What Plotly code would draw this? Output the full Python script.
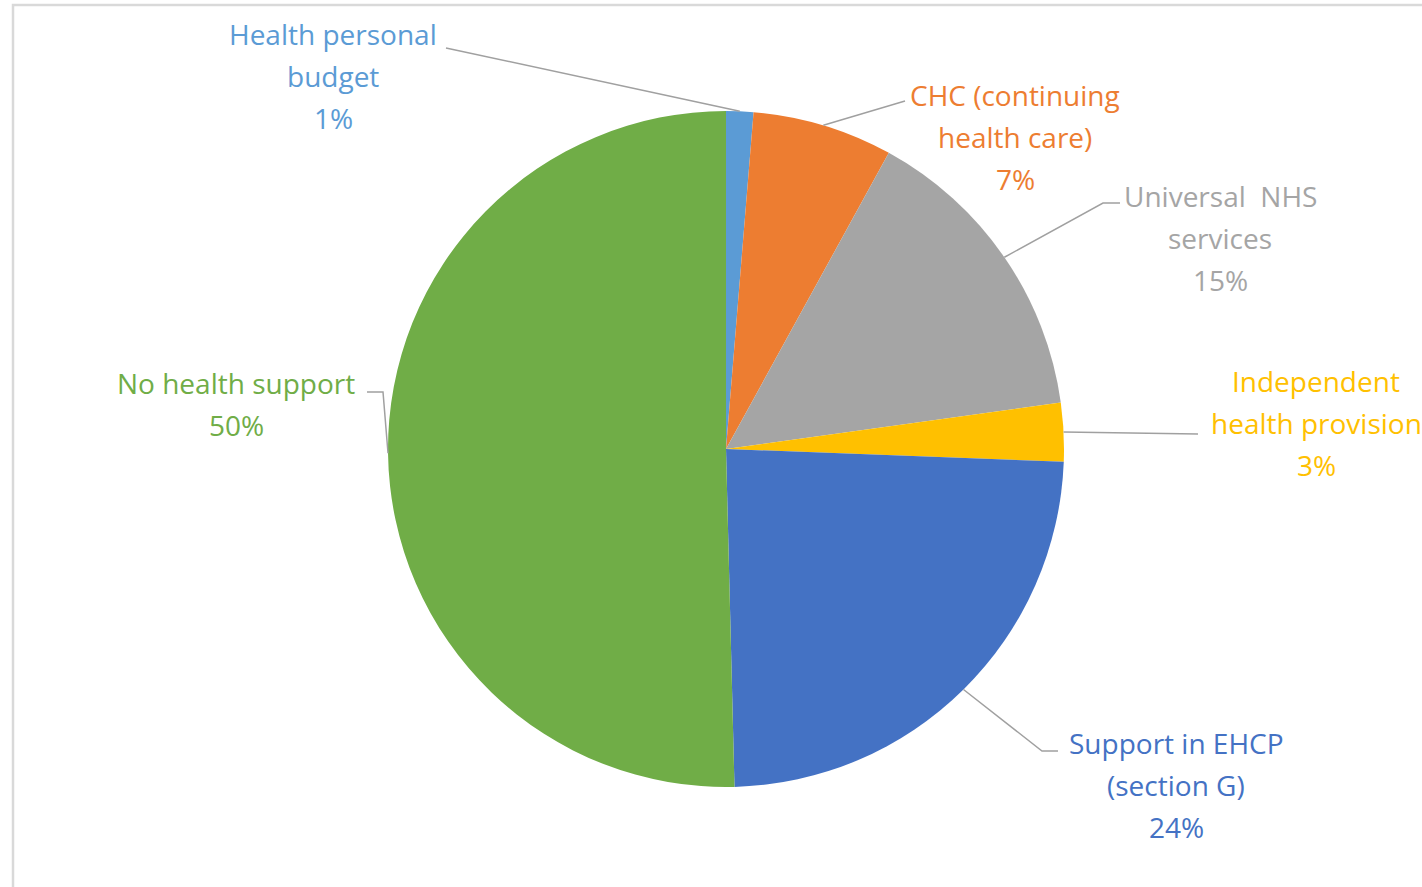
import math
import plotly.graph_objects as go

# ---- data ----
categories = ["Health personal budget", "CHC (continuing health care)", "Universal NHS services",
              "Independent health provision", "Support in EHCP (section G)", "No health support"]
values = [1.3, 6.7, 14.8, 2.8, 24.0, 50.4]
label_lines = [["Health personal", "budget"],
               ["CHC (continuing", "health care)"],
               ["Universal  NHS", "services"],
               ["Independent", "health provision"],
               ["Support in EHCP", "(section G)"],
               ["No health support"]]
colors = ["#5B9BD5", "#ED7D31", "#A5A5A5", "#FFC000", "#4472C4", "#70AD47"]

# ---- layout constants (pixels) ----
W, H = 1422, 887
CX, CY, R = 726, 449, 338
# label block: centre x, first line centre y
label_pos = [(333, 34), (1015, 95), (1220, 196), (1316, 381), (1176, 743), (236, 383)]
LINE_H = 42
# leader line points on the label side (pixels)
leader_pts = [[(446, 48)],
              [(905, 101)],
              [(1120, 203), (1103, 203)],
              [(1198, 434)],
              [(1058, 751), (1042, 751)],
              [(367, 392), (383, 392)]]

def px(x):
    return x / W

def py(y):
    return 1 - y / H

fig = go.Figure()
fig.add_trace(go.Pie(
    labels=categories, values=values, sort=False, direction="clockwise", rotation=0,
    marker=dict(colors=colors, line=dict(width=0)),
    textinfo="none", showlegend=False,
    domain=dict(x=[px(CX - R), px(CX + R)], y=[py(CY + R), py(CY - R)]),
))

total = sum(values)
cum = 0
annotations = []
shapes = []
for i, v in enumerate(values):
    mid = (cum + v / 2) / total * 2 * math.pi
    cum += v
    ax_ = CX + R * math.sin(mid)
    ay_ = CY - R * math.cos(mid)
    pts = leader_pts[i] + [(ax_, ay_)]
    path = "M " + " L ".join(f"{px(x):.5f},{py(y):.5f}" for x, y in pts)
    shapes.append(dict(type="path", path=path, xref="paper", yref="paper",
                       line=dict(color="#A0A0A0", width=1.5)))
    lines = label_lines[i] + [f"{round(v / total * 100)}%"]
    lx, ly = label_pos[i]
    for j, t in enumerate(lines):
        annotations.append(dict(text=t, x=px(lx), y=py(ly + j * LINE_H), xref="paper", yref="paper",
                                xanchor="center", yanchor="middle", showarrow=False,
                                font=dict(family="Open Sans", size=28, color=colors[i])))

# chart border
shapes.append(dict(type="rect", xref="paper", yref="paper", x0=px(13), x1=1.02, y0=-0.02, y1=py(5),
                   line=dict(color="#D9D9D9", width=2.5)))

fig.update_layout(width=W, height=H, margin=dict(l=0, r=0, t=0, b=0),
                  paper_bgcolor="white", plot_bgcolor="white",
                  annotations=annotations, shapes=shapes)
fig.write_html("out.html")
